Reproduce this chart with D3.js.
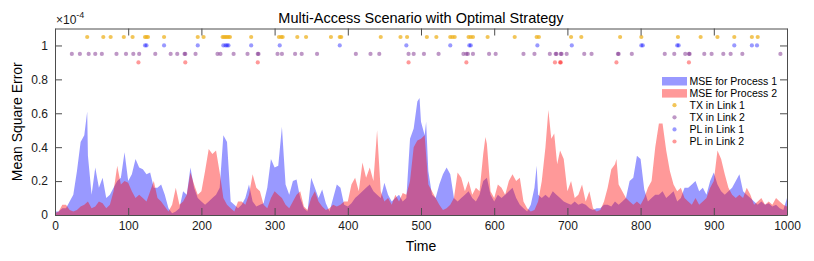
<!DOCTYPE html>
<html>
<head>
<meta charset="utf-8">
<script src="https://cdn.jsdelivr.net/npm/d3@7"></script>
<style>
  body { margin: 0; background: #fff; }
  svg { font-family: "Liberation Sans", Arial, Helvetica, sans-serif; }
  .axis path, .axis line { stroke: #4d4d4d; }
  .axis text { fill: #1a1a1a; font-size: 12px; }
</style>
</head>
<body>
<div id="chart"></div>
<script>
// ------------------------------------------
//  Data (MSE values in units of 1e-4)
// ------------------------------------------
const mseProcess1 = [
  [0,0.02],[5,0.02],[10,0.04],[15,0.04],[20,0.08],[25,0.12],[30,0.26],[35,0.43],[40,0.47],[44,0.61],
  [45,0.35],[50,0.12],[55,0.28],[60,0.16],[65,0.22],[70,0.10],[75,0.12],[80,0.16],[85,0.20],[90,0.22],
  [95,0.37],[100,0.20],[105,0.24],[110,0.33],[115,0.28],[120,0.27],[125,0.24],[130,0.25],[135,0.16],[140,0.16],
  [145,0.18],[150,0.12],[155,0.04],[160,0.01],[165,0.02],[170,0.04],[175,0.14],[180,0.12],[185,0.28],[190,0.16],
  [195,0.10],[200,0.08],[205,0.06],[210,0.08],[215,0.10],[220,0.12],[225,0.16],[230,0.47],[235,0.43],[240,0.08],
  [245,0.06],[250,0.04],[255,0.06],[260,0.10],[265,0.18],[270,0.08],[275,0.05],[280,0.06],[285,0.07],[290,0.16],
  [295,0.33],[300,0.28],[305,0.29],[310,0.52],[315,0.18],[320,0.12],[325,0.20],[330,0.21],[335,0.10],[340,0.04],
  [345,0.02],[350,0.22],[355,0.16],[360,0.10],[365,0.15],[370,0.07],[375,0.02],[380,0.10],[385,0.18],[390,0.16],
  [395,0.06],[400,0.05],[405,0.07],[410,0.10],[415,0.12],[420,0.14],[425,0.16],[430,0.18],[435,0.14],[440,0.12],
  [445,0.10],[450,0.19],[455,0.12],[460,0.08],[465,0.10],[470,0.12],[475,0.08],[480,0.10],[485,0.45],[490,0.51],
  [495,0.67],[498,0.69],[500,0.55],[505,0.47],[507,0.55],[510,0.26],[515,0.12],[520,0.10],[525,0.18],[530,0.24],
  [535,0.28],[540,0.24],[545,0.10],[550,0.08],[555,0.10],[560,0.12],[565,0.14],[570,0.10],[575,0.08],[580,0.12],
  [585,0.20],[590,0.22],[595,0.12],[600,0.08],[605,0.12],[610,0.10],[615,0.12],[620,0.14],[625,0.16],[630,0.10],
  [635,0.06],[640,0.04],[645,0.02],[650,0.06],[655,0.16],[658,0.29],[660,0.12],[665,0.10],[670,0.12],[675,0.10],
  [680,0.14],[685,0.12],[690,0.10],[695,0.08],[700,0.07],[705,0.06],[710,0.08],[715,0.06],[720,0.07],[725,0.06],
  [730,0.04],[735,0.03],[740,0.04],[745,0.04],[750,0.06],[755,0.06],[760,0.05],[765,0.08],[770,0.06],[775,0.08],
  [780,0.10],[785,0.20],[790,0.22],[795,0.35],[800,0.33],[805,0.15],[810,0.08],[815,0.10],[820,0.12],[825,0.12],
  [830,0.14],[835,0.10],[840,0.12],[845,0.14],[850,0.08],[855,0.10],[860,0.16],[865,0.16],[870,0.18],[875,0.20],
  [880,0.14],[885,0.16],[890,0.12],[895,0.20],[900,0.25],[905,0.18],[910,0.14],[915,0.12],[920,0.14],[925,0.16],
  [930,0.20],[935,0.24],[940,0.14],[945,0.12],[950,0.10],[955,0.08],[960,0.06],[965,0.08],[970,0.06],[975,0.07],
  [980,0.05],[985,0.06],[990,0.04],[995,0.03],[1000,0.10]
];

const mseProcess2 = [
  [0,0.01],[5,0.02],[10,0.06],[15,0.06],[20,0.03],[25,0.02],[30,0.03],[35,0.05],[40,0.06],[45,0.08],
  [50,0.04],[55,0.05],[60,0.08],[65,0.07],[70,0.04],[75,0.06],[80,0.14],[85,0.29],[90,0.18],[95,0.20],
  [100,0.19],[105,0.14],[110,0.10],[115,0.12],[120,0.10],[125,0.08],[130,0.14],[135,0.20],[140,0.10],[145,0.08],
  [150,0.05],[155,0.02],[160,0.06],[165,0.16],[170,0.06],[175,0.08],[180,0.12],[185,0.25],[190,0.18],[195,0.12],
  [200,0.14],[205,0.26],[210,0.39],[215,0.36],[220,0.38],[225,0.25],[230,0.10],[235,0.06],[240,0.04],[245,0.02],
  [250,0.08],[255,0.08],[260,0.06],[265,0.12],[270,0.24],[275,0.16],[280,0.14],[285,0.06],[290,0.04],[295,0.10],
  [300,0.14],[305,0.12],[310,0.10],[315,0.06],[320,0.04],[325,0.08],[330,0.12],[335,0.14],[340,0.05],[345,0.03],
  [350,0.10],[355,0.14],[360,0.08],[365,0.05],[370,0.03],[375,0.04],[380,0.06],[385,0.05],[390,0.06],[395,0.08],
  [400,0.08],[405,0.18],[410,0.22],[415,0.14],[420,0.31],[425,0.22],[430,0.28],[435,0.20],[440,0.50],[445,0.14],
  [450,0.08],[455,0.10],[460,0.06],[465,0.12],[470,0.08],[475,0.13],[480,0.12],[485,0.20],[490,0.40],[495,0.44],
  [500,0.45],[505,0.47],[510,0.18],[515,0.14],[520,0.10],[525,0.06],[530,0.03],[535,0.04],[540,0.06],[545,0.10],
  [550,0.25],[555,0.22],[560,0.14],[565,0.20],[570,0.12],[575,0.16],[580,0.14],[585,0.36],[588,0.46],[590,0.42],
  [595,0.14],[600,0.10],[605,0.18],[610,0.16],[615,0.12],[620,0.20],[625,0.24],[630,0.20],[635,0.22],[640,0.08],
  [645,0.04],[650,0.02],[655,0.03],[660,0.08],[665,0.20],[670,0.40],[674,0.62],[678,0.45],[682,0.48],[686,0.30],
  [690,0.38],[695,0.33],[700,0.14],[705,0.20],[710,0.10],[715,0.12],[720,0.18],[725,0.08],[730,0.14],[735,0.04],
  [740,0.02],[745,0.03],[750,0.08],[755,0.16],[760,0.27],[765,0.30],[767,0.33],[770,0.18],[775,0.14],[780,0.10],
  [785,0.08],[790,0.06],[795,0.08],[800,0.06],[805,0.10],[810,0.16],[815,0.20],[820,0.40],[825,0.54],[830,0.54],
  [835,0.38],[840,0.26],[845,0.18],[850,0.14],[855,0.16],[860,0.10],[865,0.08],[870,0.06],[875,0.10],[880,0.06],
  [885,0.08],[890,0.10],[895,0.16],[900,0.20],[905,0.38],[910,0.33],[915,0.24],[920,0.16],[925,0.12],[930,0.10],
  [935,0.12],[940,0.10],[945,0.16],[950,0.12],[955,0.06],[960,0.08],[965,0.10],[970,0.06],[975,0.08],[980,0.06],
  [985,0.10],[990,0.08],[995,0.06],[1000,0.05]
];

// event times (rows are drawn at fixed levels above the curves)
const txLink1 = [44,66,76,94,106,123,125,127,149,195,203,229,231,233,235,237,239,268,306,309,311,331,343,377,389,391,
  445,472,481,508,521,540,543,546,565,568,571,591,628,658,661,705,719,772,801,851,882,905,928,952,960];
const plLink1 = [123,125,149,195,230,233,235,237,268,307,389,480,540,566,568,659,706,801,803,850,852,928,952,959];
const txLink2 = [23,34,46,55,64,84,97,107,115,137,158,167,177,178,192,222,226,244,263,277,278,304,310,328,337,358,
  411,431,443,483,490,504,524,558,562,564,571,593,602,640,655,676,684,685,691,692,699,723,733,769,770,788,833,846,
  861,866,867,887,897,913,923,939,991];
const plLink2 = [114,178,277,483,562,683,690,691,767,866];

const xTicks = [0,100,200,300,400,500,600,700,800,900,1000];
const yTicks = [0,0.2,0.4,0.6,0.8,1];
const yTickLabels = ["0","0.2","0.4","0.6","0.8","1"];

// ------------------------------------------
//  Chart
// ------------------------------------------
const W = 814, H = 261;
const margin = { top: 28.5, right: 27, bottom: 46, left: 55 };
const width = W - margin.left - margin.right;
const height = H - margin.top - margin.bottom;

const svg = d3.select("#chart").append("svg").attr("width", W).attr("height", H);
const g = svg.append("g").attr("transform", `translate(${margin.left},${margin.top})`);

const x = d3.scaleLinear().domain([0, 1000]).range([0, width]);
const y = d3.scaleLinear().domain([0, 1.1]).range([height, 0]);

svg.append("defs").append("clipPath").attr("id", "clip")
  .append("rect").attr("width", width).attr("height", height);

const area = d3.area().x(d => x(d[0])).y0(y(0)).y1(d => y(d[1]));
const plot = g.append("g").attr("clip-path", "url(#clip)");

plot.append("path").datum(mseProcess1).attr("d", area)
  .attr("fill", "#0000ff").attr("fill-opacity", 0.4);
plot.append("path").datum(mseProcess2).attr("d", area)
  .attr("fill", "#ff0000").attr("fill-opacity", 0.4);

const rows = [
  { data: txLink1, level: 1.05, color: "#edb120", alpha: 0.75, name: "TX in Link 1" },
  { data: txLink2, level: 0.95, color: "#7e2f8e", alpha: 0.5, name: "TX in Link 2" },
  { data: plLink1, level: 1.00, color: "#0000ff", alpha: 0.4, name: "PL in Link 1" },
  { data: plLink2, level: 0.90, color: "#ff0000", alpha: 0.4, name: "PL in Link 2" }
];

rows.forEach(r => {
  plot.append("g").selectAll("circle")
    .data(r.data)
    .enter().append("circle")
    .attr("cx", d => x(d))
    .attr("cy", y(r.level))
    .attr("r", 2.1)
    .attr("fill", r.color)
    .attr("fill-opacity", r.alpha);
});

// axes (ticks pointing inward, box on)
g.append("g").attr("class", "axis")
  .attr("transform", `translate(0,${height})`)
  .call(d3.axisBottom(x).tickValues(xTicks).tickFormat(d3.format("d")).tickSizeInner(-7).tickSizeOuter(0).tickPadding(6));
g.append("g").attr("class", "axis")
  .call(d3.axisTop(x).tickValues(xTicks).tickFormat("").tickSizeInner(-7).tickSizeOuter(0));
g.append("g").attr("class", "axis")
  .call(d3.axisLeft(y).tickValues(yTicks).tickFormat((d, i) => yTickLabels[i]).tickSizeInner(-7).tickSizeOuter(0).tickPadding(7));
g.append("g").attr("class", "axis")
  .attr("transform", `translate(${width},0)`)
  .call(d3.axisRight(y).tickValues(yTicks).tickFormat("").tickSizeInner(-7).tickSizeOuter(0));

g.selectAll(".axis path").attr("stroke-width", 1);

// texts
svg.append("text")
  .attr("x", margin.left + width / 2).attr("y", 23)
  .attr("text-anchor", "middle").attr("font-size", 14.5).attr("fill", "#000")
  .text("Multi-Access Scenario with Optimal Strategy");

const expo = svg.append("text").attr("x", 56).attr("y", 24).attr("font-size", 12).attr("fill", "#1a1a1a");
expo.append("tspan").text("\u00d710");
expo.append("tspan").attr("dy", -6).attr("font-size", 9).text("-4");

svg.append("text")
  .attr("x", margin.left + width / 2).attr("y", 251)
  .attr("text-anchor", "middle").attr("font-size", 14).attr("fill", "#000")
  .text("Time");

svg.append("text")
  .attr("transform", `translate(22,${margin.top + height / 2}) rotate(-90)`)
  .attr("text-anchor", "middle").attr("font-size", 14).attr("fill", "#000")
  .text("Mean Square Error");

// legend
const legend = svg.append("g").attr("transform", "translate(662,81)");
const patches = [
  { name: "MSE for Process 1", color: "#0000ff" },
  { name: "MSE for Process 2", color: "#ff0000" }
];
const step = 12.1;
patches.forEach((p, i) => {
  legend.append("rect").attr("x", 0).attr("y", i * step - 4).attr("width", 25).attr("height", 8.5)
    .attr("fill", p.color).attr("fill-opacity", 0.4);
  legend.append("text").attr("x", 27.5).attr("y", i * step).attr("dy", "0.35em")
    .attr("font-size", 10.5).attr("fill", "#000").text(p.name);
});
rows.forEach((r, i) => {
  const yy = (i + 2) * step;
  legend.append("circle").attr("cx", 12.5).attr("cy", yy).attr("r", 2.1)
    .attr("fill", r.color).attr("fill-opacity", r.alpha);
  legend.append("text").attr("x", 27.5).attr("y", yy).attr("dy", "0.35em")
    .attr("font-size", 10.5).attr("fill", "#000").text(r.name);
});
</script>
</body>
</html>
